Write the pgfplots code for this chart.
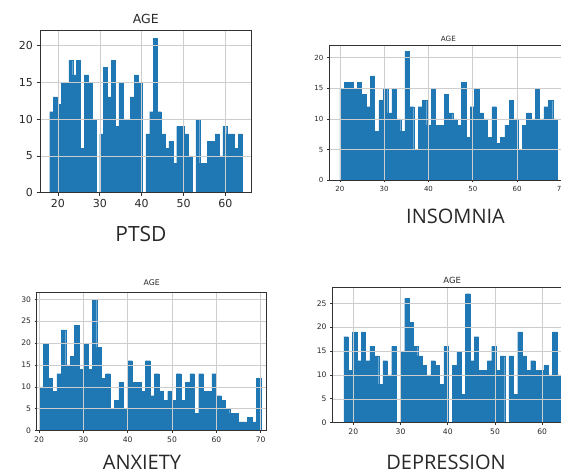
\documentclass[border=0pt]{standalone}
\usepackage{fontspec}
\setmainfont{DejaVu Sans}
\newfontfamily\labelfont{Open Sans}
\usepackage{pgfplots}
\usepackage{pgfplotstable}
\pgfplotsset{compat=1.18}
\definecolor{mplblue}{RGB}{31,119,180}
\definecolor{gridc}{RGB}{205,205,205}
\definecolor{spine}{RGB}{50,50,50}
\definecolor{txt}{RGB}{40,40,40}

% PTSD: ages 18-64, 50 bins of width 0.92 (left edge, count)
\pgfplotstableread{
edge h
18.00 11
18.92 13
19.84 12
20.76 15
21.68 15
22.60 18
23.52 16
24.44 18
25.36 6
26.28 16
27.20 15
28.12 10
29.04 0
29.96 8
30.88 17
31.80 13
32.72 18
33.64 9
34.56 15
35.48 10
36.40 10
37.32 13
38.24 16
39.16 15
40.08 0
41.00 8
41.92 11
42.84 21
43.76 11
44.68 8
45.60 6
46.52 7
47.44 4
48.36 9
49.28 9
50.20 8
51.12 5
52.04 0
52.96 10
53.88 4
54.80 4
55.72 7
56.64 7
57.56 8
58.48 5
59.40 9
60.32 8
61.24 8
62.16 6
63.08 8
64.00 8
}\ptsd

% INSOMNIA: ages 20-69, 50 bins of width 0.98
\pgfplotstableread{
edge h
20.00 15
20.98 16
21.96 16
22.94 15
23.92 16
24.90 14
25.88 12
26.86 17
27.84 8
28.82 13
29.80 15
30.78 11
31.76 15
32.74 10
33.72 8
34.70 21
35.68 12
36.66 5
37.64 12
38.62 13
39.60 9
40.58 15
41.56 9
42.54 9
43.52 14
44.50 11
45.48 10
46.46 9
47.44 16
48.42 7
49.40 12
50.38 15
51.36 11
52.34 10
53.32 7
54.30 12
55.28 6
56.26 7
57.24 9
58.22 13
59.20 10
60.18 5
61.16 9
62.14 11
63.12 10
64.10 15
65.08 10
66.06 12
67.04 13
68.02 10
69.00 10
}\insomnia

% ANXIETY: ages 20-70, 50 bins of width 1
\pgfplotstableread{
edge h
20 10
21 20
22 12
23 9
24 13
25 23
26 15
27 17
28 24
29 14
30 20
31 14
32 30
33 19
34 12
35 13
36 5
37 7
38 11
39 5
40 16
41 11
42 11
43 9
44 16
45 8
46 13
47 9
48 7
49 9
50 7
51 13
52 7
53 11
54 13
55 4
56 13
57 9
58 9
59 13
60 8
61 7
62 5
63 4
64 4
65 2
66 2
67 3
68 2
69 12
70 12
}\anxiety

% DEPRESSION: ages 18-64, 50 bins of width 0.92
\pgfplotstableread{
edge h
18.00 18
18.92 11
19.84 19
20.76 13
21.68 19
22.60 13
23.52 16
24.44 14
25.36 8
26.28 13
27.20 10
28.12 16
29.04 0
29.96 15
30.88 26
31.80 21
32.72 16
33.64 14
34.56 12
35.48 10
36.40 13
37.32 12
38.24 8
39.16 16
40.08 0
41.00 12
41.92 15
42.84 6
43.76 27
44.68 13
45.60 18
46.52 11
47.44 11
48.36 13
49.28 16
50.20 11
51.12 14
52.04 0
52.96 14
53.88 6
54.80 19
55.72 14
56.64 11
57.56 13
58.48 11
59.40 11
60.32 12
61.24 10
62.16 19
63.08 10
64.00 10
}\depression

\pgfplotsset{
  histo/.style={
    scale only axis, axis on top, ymin=0,
    grid=major, grid style={gridc, line width=0.6pt},
    axis line style={spine, line width=0.7pt},
    tick align=outside, xtick pos=bottom, ytick pos=left,
    tick style={spine, line width=0.7pt},
    /pgf/number format/assume math mode=true,
    /pgf/number format/1000 sep={},
    ticklabel style={text=txt},
    title={AGE},
    title style={at={(0.5,1)}, anchor=base, text=txt},
  },
  bars/.style={ybar interval, fill=mplblue, draw=mplblue, line width=0.2pt},
}

\begin{document}
\begin{tikzpicture}[x=1pt,y=1pt]
\useasboundingbox (0,0) rectangle (561,473);
\clip (0,0) rectangle (561,473);

% PTSD
\begin{axis}[histo, at={(40pt,280.3pt)}, anchor=south west,
  width=211.7pt, height=162.4pt,
  xmin=15.7, xmax=66.3, ymax=22.05,
  xtick={20,30,40,50,60}, ytick={0,5,10,15,20},
  major tick length=3.5pt,
  ticklabel style={font=\fontsize{11}{13}\selectfont},
  title style={font=\fontsize{12.5}{15}\selectfont, yshift=0.5pt}]
\addplot[bars] table[x=edge,y=h] {\ptsd};
\end{axis}

% INSOMNIA
\begin{axis}[histo, at={(329pt,292.7pt)}, anchor=south west,
  width=238.8pt, height=135.3pt,
  xmin=17.55, xmax=71.45, ymax=22.05,
  xtick={20,30,40,50,60,70}, ytick={0,5,10,15,20},
  major tick length=2.2pt,
  ticklabel style={font=\fontsize{7}{8}\selectfont},
  title style={font=\fontsize{7.2}{8}\selectfont, yshift=-2.5pt}]
\addplot[bars] table[x=edge,y=h] {\insomnia};
\end{axis}

% ANXIETY
\begin{axis}[histo, at={(36.7pt,42.3pt)}, anchor=south west,
  width=230pt, height=138pt,
  xmin=19.47, xmax=71.35, ymax=31.5,
  xtick={20,30,40,50,60,70}, ytick={0,5,10,15,20,25,30},
  major tick length=2.2pt,
  ticklabel style={font=\fontsize{7.6}{9}\selectfont},
  title style={font=\fontsize{7.8}{9}\selectfont, yshift=1pt}]
\addplot[bars] table[x=edge,y=h] {\anxiety};
\end{axis}

% DEPRESSION
\begin{axis}[histo, at={(332.3pt,50.3pt)}, anchor=south west,
  width=239.7pt, height=135.4pt,
  xmin=15.56, xmax=66.3, ymax=28.35,
  xtick={20,30,40,50,60}, ytick={0,5,10,15,20,25},
  major tick length=2.2pt,
  ticklabel style={font=\fontsize{7.6}{9}\selectfont},
  title style={font=\fontsize{8.5}{10}\selectfont, yshift=-1.8pt}]
\addplot[bars] table[x=edge,y=h] {\depression};
\end{axis}

\node[font=\labelfont\fontsize{21}{25}\selectfont, text=txt, anchor=base] at (141,231.5) {PTSD};
\node[font=\labelfont\fontsize{20}{24}\selectfont, text=txt, anchor=base] at (455.5,249.7) {INSOMNIA};
\node[font=\labelfont\fontsize{20}{24}\selectfont, text=txt, anchor=base] at (142,3.5) {ANXIETY};
\node[font=\labelfont\fontsize{20}{24}\selectfont, text=txt, anchor=base] at (446,3.5) {DEPRESSION};
\end{tikzpicture}
\end{document}
